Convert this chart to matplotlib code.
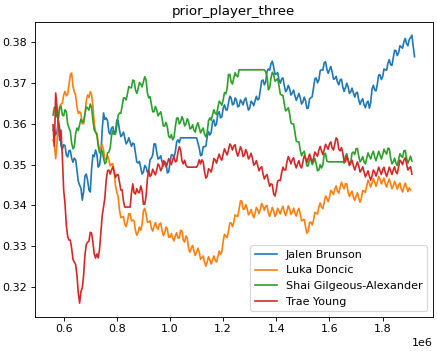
import numpy as np
import matplotlib
matplotlib.use("Agg")
import matplotlib.pyplot as plt

nan = np.nan

# x positions in thousands (axis shows them with the 1e6 offset)
x_k = [560, 570, 580, 590, 600, 610, 620, 630, 640, 650,
       660, 670, 680, 690, 700, 710, 720, 730, 740, 750,
       760, 770, 780, 790, 800, 810, 820, 830, 840, 850,
       860, 870, 880, 890, 900, 910, 920, 930, 940, 950,
       960, 970, 980, 990, 1000, 1010, 1020, 1030, 1040, 1050,
       1060, 1070, 1080, 1090, 1100, 1110, 1120, 1130, 1140, 1150,
       1160, 1170, 1180, 1190, 1200, 1210, 1220, 1230, 1240, 1250,
       1260, 1270, 1280, 1290, 1300, 1310, 1320, 1330, 1340, 1350,
       1360, 1370, 1380, 1390, 1400, 1410, 1420, 1430, 1440, 1450,
       1460, 1470, 1480, 1490, 1500, 1510, 1520, 1530, 1540, 1550,
       1560, 1570, 1580, 1590, 1600, 1610, 1620, 1630, 1640, 1650,
       1660, 1670, 1680, 1690, 1700, 1710, 1720, 1730, 1740, 1750,
       1760, 1770, 1780, 1790, 1800, 1810, 1820, 1830, 1840, 1850,
       1860, 1870, 1880, 1890, 1900, 1910, 1920]

# in-between samples (the jitter band of each line)
x_mid_k = [565, 575, 585, 595, 605, 615, 625, 635, 645, 655,
           665, 675, 685, 695, 705, 715, 725, 735, 745, 755,
           765, 775, 785, 795, 805, 815, 825, 835, 845, 855,
           865, 875, 885, 895, 905, 915, 925, 935, 945, 955,
           965, 975, 985, 995, 1005, 1015, 1025, 1035, 1045, 1055,
           1065, 1075, 1085, 1095, 1105, 1115, 1125, 1135, 1145, 1155,
           1165, 1175, 1185, 1195, 1205, 1215, 1225, 1235, 1245, 1255,
           1265, 1275, 1285, 1295, 1305, 1315, 1325, 1335, 1345, 1355,
           1365, 1375, 1385, 1395, 1405, 1415, 1425, 1435, 1445, 1455,
           1465, 1475, 1485, 1495, 1505, 1515, 1525, 1535, 1545, 1555,
           1565, 1575, 1585, 1595, 1605, 1615, 1625, 1635, 1645, 1655,
           1665, 1675, 1685, 1695, 1705, 1715, 1725, 1735, 1745, 1755,
           1765, 1775, 1785, 1795, 1805, 1815, 1825, 1835, 1845, 1855,
           1865, 1875, 1885, 1895, 1905, 1915]

brunson = [0.3585, 0.3573, 0.3610, 0.3546, 0.3549, 0.3524, 0.3534, 0.3516, 0.3516, 0.3487,
           0.3450, 0.3413, 0.3472, 0.3462, 0.3433, 0.3524, 0.3536, 0.3494, 0.3524, 0.3627,
           0.3615, 0.3580, 0.3590, 0.3575, 0.3610, 0.3585, 0.3573, 0.3566, 0.3556, 0.3556,
           0.3553, 0.3529, 0.3504, 0.3492, 0.3482, 0.3494, 0.3487, 0.3516, 0.3551, 0.3531,
           0.3516, 0.3507, 0.3507, 0.3480, 0.3504, 0.3524, 0.3531, 0.3561, 0.3566, 0.3566,
           0.3566, 0.3566, 0.3566, 0.3566, 0.3566, 0.3541, 0.3524, 0.3544, 0.3568, 0.3573,
           0.3605, 0.3595, 0.3625, 0.3615, 0.3639, 0.3635, 0.3652, 0.3664, 0.3649, 0.3659,
           0.3644, 0.3654, 0.3659, 0.3649, 0.3639, 0.3652, 0.3657, 0.3659, 0.3684, 0.3708,
           0.3703, 0.3735, 0.3748, 0.3740, 0.3723, 0.3708, 0.3711, 0.3694, 0.3684, 0.3686,
           0.3676, 0.3669, 0.3666, 0.3664, 0.3654, 0.3657, 0.3639, 0.3664, 0.3689, 0.3713,
           0.3708, 0.3733, 0.3750, 0.3735, 0.3733, 0.3728, 0.3711, 0.3703, 0.3708, 0.3691,
           0.3689, 0.3691, 0.3679, 0.3676, 0.3676, 0.3659, 0.3657, 0.3647, 0.3652, 0.3639,
           0.3686, 0.3684, 0.3698, 0.3721, 0.3716, 0.3733, 0.3750, 0.3745, 0.3762, 0.3780,
           0.3775, 0.3789, 0.3802, 0.3797, 0.3807, 0.3818, 0.3765]
brunson_mid = [0.3589, 0.3582, 0.3588, 0.3538, 0.3547, 0.3519, 0.3535, 0.3506, 0.3512, 0.3459,
               0.3442, 0.3433, 0.3477, 0.3438, 0.3489, 0.3520, 0.3525, 0.3499, 0.3586, 0.3611,
               0.3608, 0.3575, 0.3593, 0.3583, 0.3608, 0.3569, 0.3580, 0.3551, 0.3566, 0.3545,
               0.3551, 0.3507, 0.3508, 0.3477, 0.3498, 0.3481, 0.3512, 0.3524, 0.3551, 0.3514,
               0.3522, 0.3497, 0.3504, 0.3482, 0.3524, 0.3518, 0.3556, 0.3554, 0.3566, 0.3566,
               0.3566, 0.3566, 0.3566, 0.3566, 0.3553, 0.3522, 0.3544, 0.3546, 0.3581, 0.3579,
               0.3610, 0.3600, 0.3630, 0.3617, 0.3647, 0.3634, 0.3668, 0.3647, 0.3664, 0.3642,
               0.3659, 0.3647, 0.3664, 0.3634, 0.3656, 0.3645, 0.3668, 0.3662, 0.3706, 0.3696,
               0.3729, 0.3732, 0.3754, 0.3722, 0.3726, 0.3700, 0.3713, 0.3679, 0.3695, 0.3671,
               0.3683, 0.3658, 0.3675, 0.3649, 0.3666, 0.3638, 0.3662, 0.3667, 0.3711, 0.3701,
               0.3731, 0.3732, 0.3753, 0.3724, 0.3741, 0.3710, 0.3717, 0.3696, 0.3710, 0.3680,
               0.3700, 0.3675, 0.3688, 0.3666, 0.3678, 0.3648, 0.3662, 0.3640, 0.3656, 0.3652,
               0.3695, 0.3681, 0.3720, 0.3709, 0.3735, 0.3732, 0.3758, 0.3744, 0.3781, 0.3768,
               0.3792, 0.3786, 0.3810, 0.3792, 0.3812, 0.3790]

doncic = [0.3561, 0.3515, 0.3615, 0.3649, 0.3671, 0.3669, 0.3696, 0.3725, 0.3679, 0.3642,
          0.3630, 0.3600, 0.3622, 0.3671, 0.3679, 0.3644, 0.3580, 0.3553, 0.3541, 0.3536,
          0.3512, 0.3512, 0.3502, 0.3482, 0.3433, 0.3389, 0.3371, 0.3354, 0.3361, 0.3379,
          0.3364, 0.3339, 0.3334, 0.3339, 0.3386, 0.3379, 0.3359, 0.3344, 0.3349, 0.3347,
          0.3354, 0.3339, 0.3332, 0.3342, 0.3322, 0.3320, 0.3325, 0.3320, 0.3339, 0.3315,
          0.3325, 0.3295, 0.3295, 0.3288, 0.3285, 0.3285, 0.3271, 0.3261, 0.3261, 0.3266,
          0.3266, 0.3266, 0.3275, 0.3280, 0.3312, 0.3325, 0.3337, 0.3357, 0.3359, 0.3374,
          0.3391, 0.3411, 0.3391, 0.3393, 0.3381, 0.3379, 0.3381, 0.3389, 0.3391, 0.3398,
          0.3398, 0.3381, 0.3384, 0.3386, 0.3379, 0.3386, 0.3391, 0.3384, 0.3386, 0.3391,
          0.3384, 0.3381, 0.3386, 0.3379, 0.3364, 0.3347, 0.3337, 0.3359, 0.3364, 0.3381,
          0.3396, 0.3396, 0.3408, 0.3418, 0.3420, 0.3433, 0.3440, 0.3435, 0.3445, 0.3448,
          0.3453, 0.3433, 0.3430, 0.3420, 0.3423, 0.3418, 0.3418, 0.3435, 0.3448, 0.3455,
          0.3455, 0.3457, 0.3457, 0.3465, 0.3460, 0.3453, 0.3457, 0.3453, 0.3448, 0.3450,
          0.3450, 0.3440, 0.3445, 0.3445, 0.3443, nan, nan]
doncic_mid = [0.3548, 0.3555, 0.3642, 0.3650, 0.3680, 0.3673, 0.3721, 0.3692, 0.3671, 0.3626,
              0.3625, 0.3601, 0.3657, 0.3665, 0.3672, 0.3602, 0.3577, 0.3537, 0.3549, 0.3514,
              0.3522, 0.3497, 0.3502, 0.3448, 0.3421, 0.3370, 0.3373, 0.3348, 0.3380, 0.3362,
              0.3362, 0.3327, 0.3347, 0.3353, 0.3393, 0.3359, 0.3362, 0.3337, 0.3358, 0.3341,
              0.3357, 0.3326, 0.3347, 0.3322, 0.3331, 0.3313, 0.3333, 0.3320, 0.3337, 0.3310,
              0.3320, 0.3285, 0.3302, 0.3277, 0.3295, 0.3268, 0.3276, 0.3251, 0.3274, 0.3256,
              0.3276, 0.3261, 0.3288, 0.3286, 0.3329, 0.3321, 0.3357, 0.3348, 0.3377, 0.3373,
              0.3411, 0.3391, 0.3402, 0.3377, 0.3390, 0.3370, 0.3395, 0.3380, 0.3405, 0.3388,
              0.3400, 0.3373, 0.3395, 0.3373, 0.3393, 0.3379, 0.3398, 0.3375, 0.3399, 0.3378,
              0.3393, 0.3374, 0.3393, 0.3362, 0.3366, 0.3332, 0.3358, 0.3352, 0.3383, 0.3379,
              0.3406, 0.3392, 0.3423, 0.3409, 0.3437, 0.3427, 0.3448, 0.3430, 0.3457, 0.3441,
              0.3453, 0.3422, 0.3435, 0.3412, 0.3431, 0.3408, 0.3437, 0.3432, 0.3462, 0.3445,
              0.3466, 0.3447, 0.3471, 0.3453, 0.3467, 0.3445, 0.3465, 0.3441, 0.3459, 0.3440,
              0.3455, 0.3433, 0.3455, 0.3434, 0.3438, nan]

gilgeous = [0.3622, 0.3639, 0.3615, 0.3644, 0.3620, 0.3630, 0.3590, 0.3553, 0.3544, 0.3590,
            0.3598, 0.3605, 0.3625, 0.3639, 0.3649, 0.3610, 0.3580, 0.3546, 0.3531, 0.3516,
            0.3507, 0.3531, 0.3571, 0.3575, 0.3595, 0.3627, 0.3644, 0.3664, 0.3674, 0.3689,
            0.3708, 0.3684, 0.3686, 0.3698, 0.3703, 0.3708, 0.3664, 0.3649, 0.3630, 0.3635,
            0.3625, 0.3615, 0.3595, 0.3593, 0.3566, 0.3561, 0.3593, 0.3615, 0.3605, 0.3610,
            0.3600, 0.3605, 0.3590, 0.3585, 0.3595, 0.3590, 0.3585, 0.3575, 0.3580, 0.3615,
            0.3622, 0.3627, 0.3639, 0.3652, 0.3659, 0.3674, 0.3721, 0.3703, 0.3713, 0.3718,
            0.3733, 0.3733, 0.3733, 0.3733, 0.3733, 0.3733, 0.3733, 0.3733, 0.3733, 0.3733,
            0.3728, 0.3684, 0.3713, 0.3721, 0.3708, 0.3694, 0.3671, 0.3649, 0.3635, 0.3625,
            0.3600, 0.3580, 0.3556, 0.3536, 0.3529, 0.3516, 0.3497, 0.3512, 0.3507, 0.3502,
            0.3487, 0.3492, 0.3526, 0.3509, 0.3507, 0.3507, 0.3507, 0.3507, 0.3507, 0.3507,
            0.3521, 0.3512, 0.3507, 0.3531, 0.3539, 0.3521, 0.3512, 0.3507, 0.3516, 0.3521,
            0.3526, 0.3519, 0.3521, 0.3524, 0.3524, 0.3531, 0.3541, 0.3516, 0.3507, 0.3504,
            0.3512, 0.3521, 0.3534, 0.3516, 0.3512, 0.3509, nan]
gilgeous_mid = [0.3641, 0.3617, 0.3640, 0.3622, 0.3635, 0.3600, 0.3582, 0.3539, 0.3577, 0.3584,
                0.3612, 0.3605, 0.3642, 0.3634, 0.3640, 0.3585, 0.3573, 0.3529, 0.3534, 0.3502,
                0.3529, 0.3541, 0.3583, 0.3575, 0.3621, 0.3626, 0.3664, 0.3659, 0.3692, 0.3689,
                0.3706, 0.3675, 0.3702, 0.3691, 0.3716, 0.3676, 0.3667, 0.3630, 0.3643, 0.3620,
                0.3630, 0.3595, 0.3604, 0.3570, 0.3574, 0.3567, 0.3614, 0.3600, 0.3618, 0.3595,
                0.3613, 0.3588, 0.3598, 0.3580, 0.3603, 0.3578, 0.3590, 0.3568, 0.3608, 0.3609,
                0.3635, 0.3623, 0.3656, 0.3646, 0.3677, 0.3688, 0.3722, 0.3698, 0.3726, 0.3716,
                0.3733, 0.3733, 0.3733, 0.3733, 0.3733, 0.3733, 0.3733, 0.3733, 0.3733, 0.3733,
                0.3716, 0.3689, 0.3727, 0.3705, 0.3711, 0.3673, 0.3670, 0.3632, 0.3640, 0.3603,
                0.3600, 0.3558, 0.3556, 0.3522, 0.3533, 0.3497, 0.3515, 0.3500, 0.3515, 0.3485,
                0.3500, 0.3499, 0.3528, 0.3507, 0.3507, 0.3507, 0.3507, 0.3507, 0.3507, 0.3504,
                0.3527, 0.3500, 0.3529, 0.3525, 0.3540, 0.3507, 0.3520, 0.3502, 0.3529, 0.3514,
                0.3533, 0.3510, 0.3533, 0.3514, 0.3538, 0.3526, 0.3539, 0.3502, 0.3516, 0.3498,
                0.3527, 0.3518, 0.3535, 0.3504, 0.3521, nan]

young = [0.3598, 0.3676, 0.3598, 0.3585, 0.3438, 0.3352, 0.3315, 0.3295, 0.3261, 0.3229,
         0.3160, 0.3197, 0.3278, 0.3310, 0.3334, 0.3310, 0.3271, 0.3271, 0.3334, 0.3396,
         0.3462, 0.3487, 0.3487, 0.3482, 0.3475, 0.3457, 0.3438, 0.3396, 0.3396, 0.3396,
         0.3453, 0.3428, 0.3433, 0.3448, 0.3403, 0.3423, 0.3487, 0.3475, 0.3482, 0.3487,
         0.3497, 0.3492, 0.3507, 0.3502, 0.3507, 0.3512, 0.3507, 0.3531, 0.3536, 0.3502,
         0.3499, 0.3494, 0.3494, 0.3494, 0.3494, 0.3512, 0.3512, 0.3482, 0.3472, 0.3487,
         0.3497, 0.3512, 0.3516, 0.3516, 0.3526, 0.3531, 0.3536, 0.3546, 0.3546, 0.3531,
         0.3531, 0.3536, 0.3524, 0.3529, 0.3519, 0.3516, 0.3502, 0.3497, 0.3492, 0.3477,
         0.3472, 0.3460, 0.3453, 0.3428, 0.3438, 0.3462, 0.3480, 0.3487, 0.3507, 0.3512,
         0.3512, 0.3502, 0.3502, 0.3497, 0.3507, 0.3516, 0.3516, 0.3516, 0.3516, 0.3526,
         0.3536, 0.3534, 0.3536, 0.3544, 0.3551, 0.3541, 0.3551, 0.3561, 0.3534, 0.3529,
         0.3507, 0.3512, 0.3504, 0.3497, 0.3497, 0.3497, 0.3487, 0.3482, 0.3477, 0.3472,
         0.3472, 0.3482, 0.3482, 0.3485, 0.3487, 0.3480, 0.3482, 0.3485, 0.3487, 0.3482,
         0.3494, 0.3507, 0.3512, 0.3502, 0.3492, 0.3477, nan]
young_mid = [0.3545, 0.3640, 0.3560, 0.3520, 0.3405, 0.3324, 0.3315, 0.3268, 0.3255, 0.3185,
             0.3189, 0.3228, 0.3304, 0.3312, 0.3332, 0.3281, 0.3281, 0.3293, 0.3375, 0.3419,
             0.3485, 0.3477, 0.3495, 0.3469, 0.3476, 0.3438, 0.3410, 0.3396, 0.3396, 0.3430,
             0.3431, 0.3441, 0.3431, 0.3436, 0.3403, 0.3465, 0.3471, 0.3489, 0.3475, 0.3502,
             0.3485, 0.3510, 0.3495, 0.3515, 0.3500, 0.3520, 0.3509, 0.3544, 0.3509, 0.3511,
             0.3494, 0.3494, 0.3494, 0.3494, 0.3500, 0.3502, 0.3507, 0.3467, 0.3490, 0.3482,
             0.3515, 0.3504, 0.3526, 0.3511, 0.3539, 0.3524, 0.3551, 0.3536, 0.3549, 0.3521,
             0.3544, 0.3520, 0.3537, 0.3514, 0.3528, 0.3499, 0.3510, 0.3485, 0.3495, 0.3465,
             0.3476, 0.3447, 0.3451, 0.3423, 0.3460, 0.3461, 0.3494, 0.3487, 0.3520, 0.3502,
             0.3517, 0.3492, 0.3510, 0.3492, 0.3522, 0.3506, 0.3526, 0.3506, 0.3531, 0.3521,
             0.3545, 0.3525, 0.3550, 0.3538, 0.3556, 0.3536, 0.3566, 0.3538, 0.3542, 0.3508,
             0.3520, 0.3498, 0.3511, 0.3487, 0.3507, 0.3482, 0.3495, 0.3470, 0.3485, 0.3462,
             0.3487, 0.3472, 0.3494, 0.3476, 0.3494, 0.3471, 0.3494, 0.3476, 0.3495, 0.3478,
             0.3511, 0.3500, 0.3517, 0.3487, 0.3495, nan]

players = ["Jalen Brunson", "Luka Doncic", "Shai Gilgeous-Alexander", "Trae Young"]


def interleave(a, b):
    out = np.empty(len(a) + len(b))
    out[0::2] = a
    out[1::2] = b
    return out


def main():
    x = interleave(x_k, x_mid_k) * 1000
    series = [(brunson, brunson_mid), (doncic, doncic_mid),
              (gilgeous, gilgeous_mid), (young, young_mid)]

    fig = plt.figure(figsize=(437 / 80, 351 / 80), dpi=80)
    ax = fig.add_axes([0.080, 0.098, 0.910, 0.840])
    for name, (vals, mids) in zip(players, series):
        ax.plot(x, interleave(vals, mids), label=name)

    ax.set_title("prior_player_three")
    ax.legend(loc="lower right")
    fig.savefig("out.png", dpi=80)


if __name__ == "__main__":
    main()
